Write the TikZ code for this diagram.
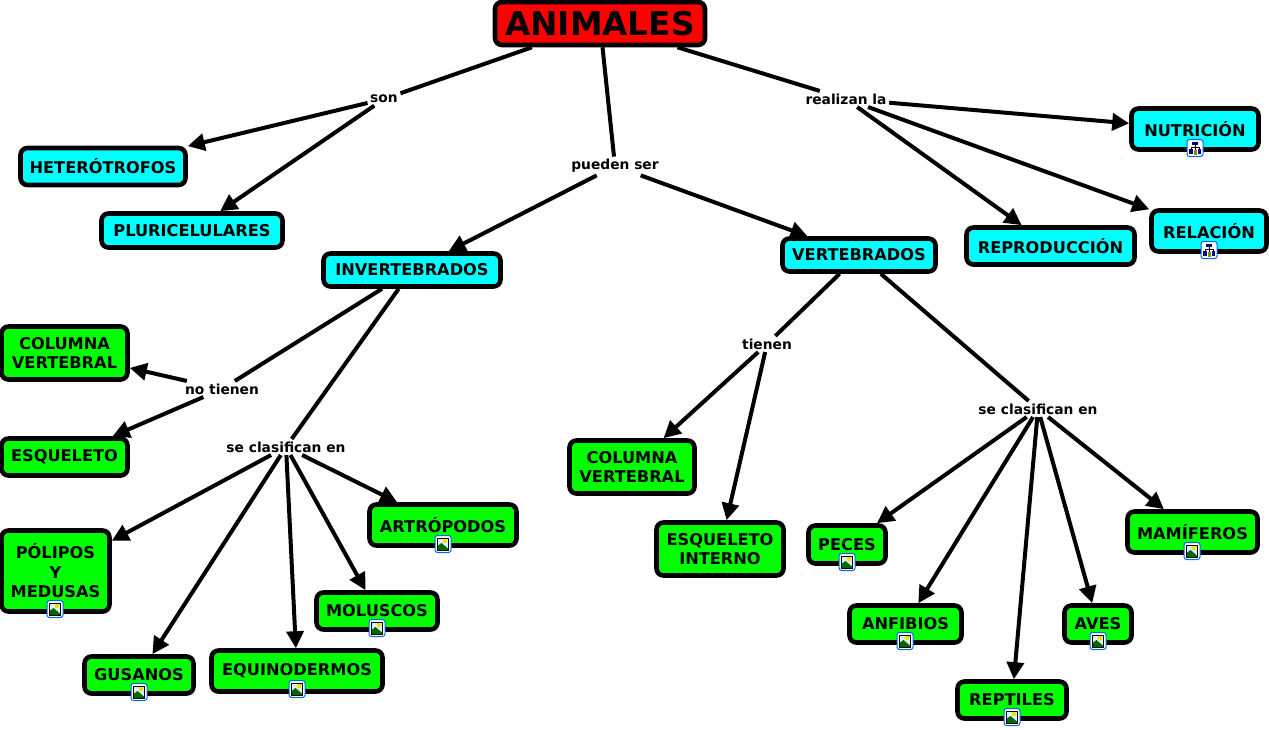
\documentclass[tikz,border=0pt]{standalone}
\usepackage{fontspec}
\setmainfont{DejaVu Sans}
\usetikzlibrary{arrows.meta}
\definecolor{aquafill}{RGB}{0,255,255}
\definecolor{limefill}{RGB}{0,255,0}
\definecolor{redfill}{RGB}{255,0,0}
\tikzset{
  concept/.style={draw=black, line width=4.6pt, rounded corners=7pt, align=center, inner sep=0pt, font=\bfseries\fontsize{16.2}{19.5}\selectfont},
  blue box/.style={concept, fill=aquafill},
  green box/.style={concept, fill=limefill},
  size/.style 2 args={minimum width=#1pt+1pt, minimum height=#2pt+1pt},
  linkword/.style={inner sep=2.5pt, font=\bfseries\fontsize{13.8}{15}\selectfont},
  link/.style={line width=4pt, draw=black},
  arrowlink/.style={link, -{Triangle[length=17pt,width=17pt]}},
  icon base/.style={draw=blue!60!cyan, line width=1pt, fill=white, rounded corners=2.5pt},
  pics/photo/.style={code={
    \draw[icon base] (-8,-8.5) rectangle (8,8.5);
    \fill[cyan!15] (-5.5,-6) rectangle (5.5,6);
    \fill[yellow!80!orange] (2,-3) circle (2.3);
    \fill[green!40!black] (-5.5,6) -- (-5.5,2) -- (-1.5,-1) -- (5.5,5) -- (5.5,6) -- cycle;
    \draw[black, line width=0.7pt] (-5.5,-6) rectangle (5.5,6);
  }},
  pics/submap/.style={code={
    \draw[icon base] (-8,-8.5) rectangle (8,8.5);
    \draw[black, line width=0.7pt] (0,-3) -- (0,-1) (-4,1) -- (-4,-1) -- (4,-1) -- (4,1) (0,-1) -- (0,2);
    \fill[blue!50!black] (-3,-6.5) rectangle (3,-3);
    \fill[blue!50!black] (-6,1) rectangle (-2.5,5.5);
    \fill[olive] (-1.5,2) rectangle (1.5,6.5);
    \fill[blue!50!black] (2.5,1) rectangle (6,5.5);
  }},
}
\begin{document}
\begin{tikzpicture}[x=1pt, y=-1pt]
\useasboundingbox (0,0) rectangle (1269,729);
% root
\node[concept, fill=redfill, size={209}{42}, font=\bfseries\fontsize{32.7}{36}\selectfont] (animales) at (600,23.5) {ANIMALES};
% linking words
\node[linkword] (son) at (384,99) {son};
\node[linkword] (realizan) at (846,99) {realizan la};
\node[linkword] (pueden) at (615,166) {pueden ser};
\node[linkword] (notienen) at (222,389) {no tienen};
\node[linkword] (clasinv) at (286,447) {se clasifican en};
\node[linkword] (tienen) at (767,344) {tienen};
\node[linkword] (clasver) at (1038,409) {se clasifican en};
% blue concepts
\node[blue box, size={164}{36}] (heterotrofos) at (103,166.5) {HETERÓTROFOS};
\node[blue box, size={180}{33}] (pluricelulares) at (192,230.5) {PLURICELULARES};
\node[blue box, size={176}{32}] (invertebrados) at (412,270) {INVERTEBRADOS};
\node[blue box, size={152}{32}] (vertebrados) at (859,255) {VERTEBRADOS};
\node[blue box, size={126}{40}] (nutricion) at (1195,129) {NUTRICIÓN};
\node[blue box, size={114}{40}] (relacion) at (1209,231) {RELACIÓN};
\node[blue box, size={167}{36}] (reproduccion) at (1050.5,246) {REPRODUCCIÓN};
% green concepts
\node[green box, size={125}{52}] (columnainv) at (64.5,353) {COLUMNA\\VERTEBRAL};
\node[green box, size={125}{36}] (esqueleto) at (64.5,457) {ESQUELETO};
\node[green box, size={107}{80}] (polipos) at (55.5,571) {PÓLIPOS\\Y\\MEDUSAS};
\node[green box, size={146}{40}] (artropodos) at (443,525) {ARTRÓPODOS};
\node[green box, size={120}{36}] (moluscos) at (377,611) {MOLUSCOS};
\node[green box, size={108}{36}] (gusanos) at (139,675) {GUSANOS};
\node[green box, size={170}{40}] (equinodermos) at (297,671) {EQUINODERMOS};
\node[green box, size={124}{52}] (columnaver) at (632,467) {COLUMNA\\VERTEBRAL};
\node[green box, size={126}{52}] (esqinterno) at (720,549) {ESQUELETO\\INTERNO};
\node[green box, size={76}{37}] (peces) at (847,544.5) {PECES};
\node[green box, size={111}{36}] (anfibios) at (905.5,624) {ANFIBIOS};
\node[green box, size={108}{36}] (reptiles) at (1012,700) {REPTILES};
\node[green box, size={66}{36}] (aves) at (1098,624) {AVES};
\node[green box, size={129}{40}] (mamiferos) at (1192.5,532) {MAMÍFEROS};
% connectors
\draw[link] (animales)--(son);
\draw[link] (animales)--(pueden);
\draw[link] (animales)--(realizan);
\draw[arrowlink] (son)--(heterotrofos);
\draw[arrowlink] (son)--(pluricelulares);
\draw[arrowlink] (realizan)--(nutricion);
\draw[arrowlink] (realizan)--(relacion);
\draw[arrowlink] (realizan)--(reproduccion);
\draw[arrowlink] (pueden)--(invertebrados);
\draw[arrowlink] (pueden)--(vertebrados);
\draw[link] (invertebrados)--(notienen);
\draw[link] (invertebrados)--(clasinv);
\draw[arrowlink] (notienen)--(columnainv);
\draw[arrowlink] (notienen)--(esqueleto);
\draw[arrowlink] (clasinv)--(polipos);
\draw[arrowlink] (clasinv)--(gusanos);
\draw[arrowlink] (clasinv)--(equinodermos);
\draw[arrowlink] (clasinv)--(moluscos);
\draw[arrowlink] (clasinv)--(artropodos);
\draw[link] (vertebrados)--(tienen);
\draw[link] (vertebrados)--(clasver);
\draw[arrowlink] (tienen)--(columnaver);
\draw[arrowlink] (tienen)--(esqinterno);
\draw[arrowlink] (clasver)--(peces);
\draw[arrowlink] (clasver)--(anfibios);
\draw[arrowlink] (clasver)--(reptiles);
\draw[arrowlink] (clasver)--(aves);
\draw[arrowlink] (clasver)--(mamiferos);
% icons
\pic at (1195,148) {submap};
\pic at (1209,250) {submap};
\pic at (55,609) {photo};
\pic at (443,544) {photo};
\pic at (377,628) {photo};
\pic at (139,692) {photo};
\pic at (297,689) {photo};
\pic at (847,562) {photo};
\pic at (905,641) {photo};
\pic at (1012,717) {photo};
\pic at (1098,641) {photo};
\pic at (1192,551) {photo};
\end{tikzpicture}
\end{document}
